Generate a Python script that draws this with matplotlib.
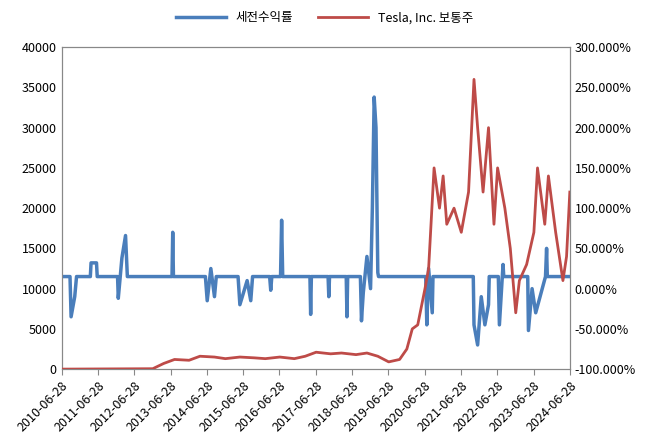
import matplotlib.pyplot as plt
from matplotlib.ticker import FuncFormatter
from matplotlib import font_manager

names = {f.name for f in font_manager.fontManager.ttflist}
cjk = [n for n in ('Noto Sans CJK KR', 'Noto Sans CJK JP', 'Noto Sans CJK SC') if n in names]
plt.rcParams['font.family'] = cjk + ['DejaVu Sans']

# decimal years
red_t = [2010.49, 2013.0, 2013.3, 2013.6, 2014.0, 2014.3, 2014.7, 2015.0, 2015.4, 2015.8,
         2016.1, 2016.5, 2016.9, 2017.2, 2017.5, 2017.9, 2018.2, 2018.6, 2018.9, 2019.2,
         2019.5, 2019.8, 2020.0, 2020.15, 2020.3, 2020.5, 2020.6, 2020.75, 2020.9, 2021.0,
         2021.1, 2021.3, 2021.5, 2021.7, 2021.85, 2021.95, 2022.1, 2022.25, 2022.4, 2022.5,
         2022.7, 2022.85, 2023.0, 2023.1, 2023.3, 2023.5, 2023.6, 2023.8, 2023.9, 2024.1,
         2024.3, 2024.4, 2024.49]
red_v = [0, 50, 700, 1200, 1100, 1600, 1500, 1300, 1500, 1400,
         1300, 1500, 1300, 1600, 2100, 1900, 2000, 1800, 2000, 1600,
         900, 1200, 2500, 5000, 5500, 10000, 12500, 25000, 20000, 24000,
         18000, 20000, 17000, 22000, 36000, 30000, 22000, 30000, 18000, 25000,
         20000, 15000, 7000, 11000, 13000, 17000, 25000, 18000, 24000, 17000,
         11000, 14000, 22000]

blue_t = [2010.49, 2010.72, 2010.75, 2010.85, 2010.9, 2011.28, 2011.3, 2011.45, 2011.47,
          2012.03, 2012.05, 2012.15, 2012.25, 2012.3, 2012.35, 2013.53, 2013.55, 2013.57,
          2014.45, 2014.5, 2014.6, 2014.7, 2014.75, 2015.35, 2015.4, 2015.6, 2015.7, 2015.75,
          2016.22, 2016.25, 2016.28, 2016.52, 2016.55, 2016.58, 2017.33, 2017.35, 2017.37,
          2017.83, 2017.85, 2017.87, 2018.33, 2018.35, 2018.37, 2018.72, 2018.75, 2018.8, 2018.9,
          2019.0, 2019.05, 2019.1, 2019.15, 2019.2, 2019.22, 2020.52, 2020.55, 2020.6, 2020.7,
          2020.72, 2021.83, 2021.85, 2021.95, 2022.05, 2022.15, 2022.25, 2022.27, 2022.52,
          2022.55, 2022.65, 2022.67, 2023.33, 2023.35, 2023.45, 2023.55, 2023.82, 2023.85,
          2023.87, 2024.49]
blue_v = [11500, 11500, 6500, 9000, 11500, 11500, 13200, 13200, 11500,
          11500, 8800, 13800, 16600, 11500, 11500, 11500, 17000, 11500,
          11500, 8500, 12500, 9000, 11500, 11500, 8000, 11000, 8500, 11500,
          11500, 9800, 11500, 11500, 18500, 11500, 11500, 6800, 11500,
          11500, 9000, 11500, 11500, 6500, 11500, 11500, 6000, 9500, 14000,
          10000, 20000, 33800, 30000, 12000, 11500, 11500, 5500, 12500, 7000,
          11500, 11500, 5500, 3000, 9000, 5500, 8000, 11500, 11500,
          5500, 13000, 11500, 11500, 4800, 10000, 7000, 11500, 15000,
          11500, 11500]

years = list(range(2010, 2025))
tick_labels = [f'{y}-06-28' for y in years]

fig, ax = plt.subplots(figsize=(6.49, 4.41), dpi=100)
fig.subplots_adjust(left=0.095, right=0.878, top=0.893, bottom=0.163)
ax2 = ax.twinx()

ax.plot(red_t, red_v, color='#be4b48', lw=2, label='Tesla, Inc. 보통주', zorder=3)
ax.plot(blue_t, blue_v, color='#4a7ebb', lw=2.5, label='세전수익률', zorder=2)
ax.set_zorder(ax2.get_zorder() + 1)
ax.patch.set_visible(False)

ax.set_ylim(0, 40000)
ax.set_yticks(range(0, 40001, 5000))
ax2.set_ylim(-1.0, 3.0)
ax2.set_yticks([-1 + 0.5 * i for i in range(9)])
ax2.yaxis.set_major_formatter(FuncFormatter(lambda v, p: f'{v * 100:.3f}%'))
ax.set_xlim(2010.49, 2024.49)
ax.set_xticks([y + 0.49 for y in years])
ax.set_xticklabels(tick_labels, rotation=45, ha='right', rotation_mode='anchor')

for a in (ax, ax2):
    a.tick_params(labelsize=9, length=0)
    for s in a.spines.values():
        s.set_color('#888888')
ax.tick_params(axis='x', length=4, color='#888888')

h, l = ax.get_legend_handles_labels()
fig.legend(h[::-1], l[::-1], loc='upper center', ncol=2, frameon=False, fontsize=9,
           bbox_to_anchor=(0.5, 1.0), handlelength=4)

fig.savefig('out.png')
